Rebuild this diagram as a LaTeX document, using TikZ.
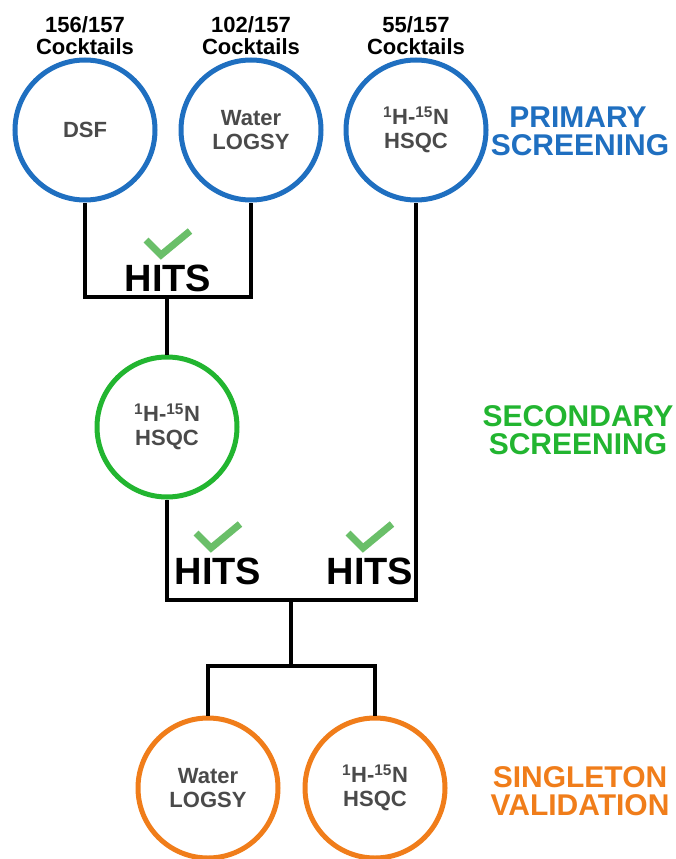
\documentclass[tikz,border=0pt]{standalone}
\usepackage{fontspec}
\setmainfont{Liberation Sans}
\definecolor{pblue}{HTML}{1F6FC0}
\definecolor{sgreen}{HTML}{22B530}
\definecolor{vorange}{HTML}{F07D1A}
\definecolor{chk}{HTML}{6ABF69}
\definecolor{txtgray}{HTML}{4A4A4A}
\begin{document}
\begin{tikzpicture}[x=1pt,y=-1pt,
  stage/.style={circle, line width=5pt, minimum size=140pt, inner sep=0pt,
    font=\bfseries\fontsize{22}{24}\selectfont, text=txtgray, align=center},
  conn/.style={line width=4pt, line join=miter, draw=black},
  hits/.style={font=\bfseries\fontsize{38}{38}\selectfont, inner sep=0pt},
  check/.style={line width=7pt, draw=chk, line join=miter},
  count/.style={font=\bfseries\fontsize{22}{22}\selectfont, align=center, inner sep=0pt},
  phase/.style={font=\bfseries\fontsize{30}{30}\selectfont, inner sep=0pt, anchor=base}]
\useasboundingbox (0,0) rectangle (676,859);
% circles
\node[stage, draw=pblue] (dsf) at (85,130) {DSF};
\node[stage, draw=pblue] (logsy1) at (251,130) {Water\\LOGSY};
\node[stage, draw=pblue] (hsqc1) at (416,130) {\textsuperscript{1}H-\textsuperscript{15}N\\HSQC};
\node[stage, draw=sgreen] (hsqc2) at (167,427) {\textsuperscript{1}H-\textsuperscript{15}N\\HSQC};
\node[stage, draw=vorange] (logsy3) at (208,788) {Water\\LOGSY};
\node[stage, draw=vorange] (hsqc3) at (375,788) {\textsuperscript{1}H-\textsuperscript{15}N\\HSQC};
% counts
\node[count] (c1) at (85,36) {156/157\\Cocktails};
\node[count] (c2) at (251,36) {102/157\\Cocktails};
\node[count] (c3) at (416,36) {55/157\\Cocktails};
% phase labels
\node[phase, text=pblue] (p1a) at (578,127) {PRIMARY};
\node[phase, text=pblue] (p1b) at (580,155) {SCREENING};
\node[phase, text=sgreen] (p2a) at (578,426) {SECONDARY};
\node[phase, text=sgreen] (p2b) at (578,454) {SCREENING};
\node[phase, text=vorange] (p3a) at (580,787) {SINGLETON};
\node[phase, text=vorange] (p3b) at (580,815) {VALIDATION};
% junctions
\coordinate (j1) at (167,297);
\coordinate (j2) at (291,600);
\coordinate (j3) at (291,666);
% connectors
\draw[conn] (dsf.south) -- (dsf.south |- j1) -- (logsy1.south |- j1) -- (logsy1.south);
\draw[conn] (j1) -- (hsqc2.north);
\draw[conn] (hsqc2.south) -- (hsqc2.south |- j2) -- (hsqc1.south |- j2) -- (hsqc1.south);
\draw[conn] (j2) -- (j3);
\draw[conn] (logsy3.north) -- (logsy3.north |- j3) -- (hsqc3.north |- j3) -- (hsqc3.north);
% hits
\node[hits] (h1) at (168,278) {HITS};
\node[hits] (h2) at (218,571) {HITS};
\node[hits] (h3) at (370,571) {HITS};
\foreach \h in {h1,h2,h3}{
  \draw[check] ([shift={(-22,-38)}]\h.center) -- ([shift={(-7,-23)}]\h.center) -- ([shift={(22,-47)}]\h.center);
}
\end{tikzpicture}
\end{document}
